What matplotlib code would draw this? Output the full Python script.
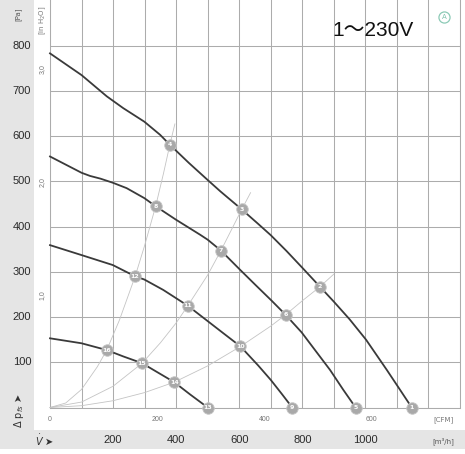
import matplotlib
matplotlib.use('Agg')
import matplotlib.pyplot as plt
from matplotlib.patches import Rectangle

# fan curves: flow [m3/h] vs static pressure [Pa]
c1_x = [0, 100, 180, 232, 299, 349, 380, 440, 500, 540, 608, 660, 700, 750, 800, 856, 900, 950, 1002, 1068, 1110, 1147]
c1_y = [783, 735, 688, 662, 632, 603, 581, 541, 503, 478, 438, 406, 381, 346, 309, 267, 234, 195, 150, 83, 39, 0]
c2_x = [0, 50, 100, 127, 160, 199, 243, 299, 335, 400, 476, 500, 542, 602, 650, 703, 747, 798, 824, 888, 930, 969]
c2_y = [555, 537, 519, 512, 506, 497, 485, 463, 445, 415, 382, 371, 347, 305, 272, 236, 205, 166, 142, 83, 39, 0]
c3_x = [0, 100, 199, 270, 299, 359, 437, 500, 550, 604, 660, 700, 735, 768]
c3_y = [359, 337, 315, 290, 283, 260, 225, 191, 164, 135, 93, 61, 30, 0]
c4_x = [0, 100, 180, 232, 292, 338, 394, 444, 500]
c4_y = [153, 142, 127, 113, 98, 79, 56, 29, 0]

# system resistance curves
sa_x = [0, 50, 100, 150, 180, 220, 270, 300, 335, 360, 380, 396]
sa_y = [0, 10, 40, 90, 127, 193, 290, 358, 445, 518, 581, 627]
sb_x = [0, 100, 200, 292, 350, 400, 437, 500, 542, 608, 636]
sb_y = [0, 12, 47, 98, 143, 187, 225, 293, 347, 438, 475]
sc_x = [0, 100, 200, 300, 394, 500, 604, 700, 747, 800, 856, 900]
sc_y = [0, 4, 15, 33, 56, 92, 135, 180, 205, 236, 267, 295]

# operating points
op_num = [1, 2, 3, 4, 5, 6, 7, 8, 9, 10, 11, 12, 13, 14, 15, 16]
op_x = [1147, 856, 608, 380, 969, 747, 542, 335, 768, 604, 437, 270, 500, 394, 292, 180]
op_y = [0, 267, 438, 581, 0, 205, 347, 445, 0, 135, 225, 290, 0, 56, 98, 127]

pa_ticks = [100, 200, 300, 400, 500, 600, 700, 800]
m3h_ticks = [200, 400, 600, 800, 1000]
cfm_ticks = [0, 200, 400, 600]
inh2o_ticks = [1.0, 2.0, 3.0]

W, H = 465, 454
fig = plt.figure(figsize=(W / 100, H / 100), dpi=100)

def fx(px):
    return px / W

def fy(py):
    return 1 - py / H

band = '#e5e5e5'
fig.patches.append(Rectangle((0, fy(449)), fx(34), fy(0) - fy(449), transform=fig.transFigure,
                             facecolor=band, edgecolor='none', zorder=-5))
fig.patches.append(Rectangle((0, fy(449)), 1, fy(430) - fy(449), transform=fig.transFigure,
                             facecolor=band, edgecolor='none', zorder=-5))

ax = fig.add_axes([fx(50), fy(407.5), fx(410), 407.5 / H])
ax.set_xlim(0, 1300)
ax.set_ylim(0, 901)
ax.set_xticks(range(0, 1301, 100))
ax.set_yticks(range(0, 801, 100))
ax.tick_params(length=0, labelbottom=False, labelleft=False)
ax.grid(True, color='#acacac', lw=0.75)
for s in ['left', 'bottom', 'right']:
    ax.spines[s].set_color('#acacac')
    ax.spines[s].set_linewidth(0.75)
ax.spines['top'].set_visible(False)

for sx, sy in [(sa_x, sa_y), (sb_x, sb_y), (sc_x, sc_y)]:
    ax.plot(sx, sy, color='#c4c4c4', lw=0.6, zorder=3, clip_on=False)

for cx, cy in [(c1_x, c1_y), (c2_x, c2_y), (c3_x, c3_y), (c4_x, c4_y)]:
    ax.plot(cx, cy, color='#3a3a3a', lw=1.3, zorder=4, clip_on=False)

ax.plot(op_x, op_y, 'o', ms=8.3, mfc='#a9a9a9', mec='#c6c6c6', mew=0.6, zorder=5, clip_on=False)
for n, x, y in zip(op_num, op_x, op_y):
    ax.text(x, y, str(n), color='white', fontsize=4.5, fontweight='bold',
            ha='center', va='center', zorder=6)

# Pa labels in left band
ytr = ax.get_yaxis_transform()
for v in pa_ticks:
    ax.text(-28 / 410, v, str(v), transform=ytr, ha='center', va='center',
            fontsize=8, color='#2a2a2a', family='Liberation Sans')
# in H2O labels
for v in inh2o_ticks:
    ax.text(-8 / 410, v * 249.1, f'{v:.1f}'.replace('.', ','), transform=ytr,
            ha='center', va='center', rotation=90, fontsize=5, color='#777777',
            family='Liberation Sans')
# CFM labels
xtr = ax.get_xaxis_transform()
for v in cfm_ticks:
    ax.text(v * 1.699, -12 / 407.5, str(v), transform=xtr, ha='center', va='center',
            fontsize=5, color='#777777', family='Liberation Sans')
# m3/h labels in bottom band
for v in m3h_ticks:
    ax.text(v, -32.5 / 407.5, str(v), transform=xtr, ha='center', va='center',
            fontsize=8, color='#2a2a2a', family='Liberation Sans')

fig.text(fx(443), fy(420), '[CFM]', ha='center', va='center', fontsize=5, color='#777777')
fig.text(fx(443), fy(441), '[m³/h]', ha='center', va='center', fontsize=5, color='#555555')
fig.text(fx(18), fy(14), '[Pa]', ha='center', va='center', rotation=90, fontsize=5, color='#555555')
fig.text(fx(43), fy(20), '[in H$_2$O]', ha='center', va='center', rotation=90, fontsize=5, color='#777777')
fig.text(fx(19), fy(410), 'Δ p$_{fs}$ ➤', ha='center', va='center', rotation=90,
         fontsize=7, color='#333333')
fig.text(fx(45), fy(440), r'$\dot{V}$ ➤', ha='center', va='center', fontsize=7, color='#333333')

fig.text(fx(373), fy(30), '1～230V', ha='center', va='center', fontsize=15, color='#111111',
         family=['Liberation Sans', 'Noto Sans CJK SC'])
fig.add_artist(plt.Line2D([fx(444)], [fy(17)], marker='o', ms=8, mfc='white', mec='#8ccab6',
                          mew=0.9, transform=fig.transFigure))
fig.text(fx(444), fy(17), 'A', ha='center', va='center', fontsize=5, color='#7fc2ac')

fig.savefig('out.png', dpi=100)
